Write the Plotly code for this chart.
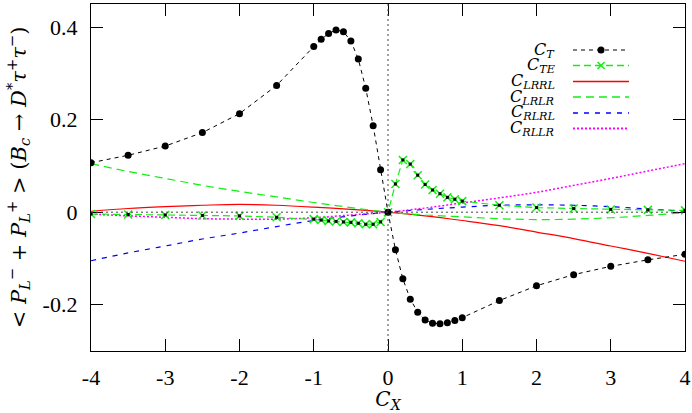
import plotly.graph_objects as go

# C_T and C_TE are sampled on the same grid of C_X values
cx_pts = [-4, -3.5, -3, -2.5, -2, -1.5, -1, -0.9, -0.8, -0.7, -0.6, -0.5, -0.4, -0.3, -0.2, -0.1,
          0, 0.1, 0.2, 0.3, 0.4, 0.5, 0.6, 0.7, 0.8, 0.9, 1, 1.5, 2, 2.5, 3, 3.5, 4]
c_t = [0.107, 0.123, 0.143, 0.172, 0.213, 0.274, 0.358, 0.374, 0.386, 0.394, 0.390, 0.370,
       0.331, 0.268, 0.187, 0.092,
       0.0, -0.081, -0.144, -0.188, -0.216, -0.233, -0.240, -0.241, -0.239, -0.234, -0.228,
       -0.191, -0.159, -0.135, -0.117, -0.103, -0.091]
c_te = [-0.004, -0.005, -0.006, -0.007, -0.008, -0.011, -0.015, -0.017, -0.019, -0.020, -0.021,
        -0.022, -0.024, -0.026, -0.026, -0.021,
        0.0, 0.061, 0.113, 0.104, 0.080, 0.060, 0.048, 0.040, 0.032, 0.028, 0.024,
        0.015, 0.010, 0.008, 0.006, 0.005, 0.004]

# smooth curves
cx_curve = [-4, -3.5, -3, -2.5, -2, -1.5, -1, -0.5, 0, 0.5, 1, 1.5, 2, 2.5, 3, 3.5, 4]
c_lrrl = [0.002, 0.008, 0.012, 0.015, 0.017, 0.015, 0.011, 0.006, 0.0,
          -0.008, -0.018, -0.029, -0.043, -0.057, -0.073, -0.089, -0.106]
c_lrlr = [0.105, 0.088, 0.073, 0.058, 0.045, 0.033, 0.021, 0.010, 0.0,
          -0.006, -0.010, -0.014, -0.016, -0.015, -0.012, -0.007, -0.001]
c_rlrl = [-0.105, -0.088, -0.073, -0.058, -0.045, -0.031, -0.018, -0.008, 0.0,
          0.006, 0.011, 0.015, 0.016, 0.015, 0.012, 0.007, 0.002]
c_rllr = [-0.004, -0.008, -0.011, -0.014, -0.015, -0.015, -0.012, -0.006, 0.0,
          0.009, 0.020, 0.031, 0.043, 0.058, 0.073, 0.089, 0.105]

x_ticks = [-4, -3, -2, -1, 0, 1, 2, 3, 4]
x_ticktext = ["-4", "-3", "-2", "-1", "0", "1", "2", "3", "4"]
y_ticks = [-0.2, 0, 0.2, 0.4]
y_ticktext = ["-0.2", "0", "0.2", "0.4"]

GREEN = "#11ee11"
SERIF = "DejaVu Serif, Liberation Serif, serif"
TICKFONT = "Liberation Serif, DejaVu Serif, serif"

fig = go.Figure()

# zero reference lines
fig.add_hline(y=0, line=dict(color="#444444", width=1, dash="2px,3px"))
fig.add_vline(x=0, line=dict(color="#444444", width=1, dash="2px,3px"))

fig.add_trace(go.Scatter(x=cx_curve, y=c_lrrl, mode="lines", line_shape="spline",
                         line=dict(color="red", width=1.2)))
fig.add_trace(go.Scatter(x=cx_curve, y=c_lrlr, mode="lines", line_shape="spline",
                         line=dict(color=GREEN, width=1.2, dash="8px,5px")))
fig.add_trace(go.Scatter(x=cx_curve, y=c_rlrl, mode="lines", line_shape="spline",
                         line=dict(color="blue", width=1.2, dash="5px,6px")))
fig.add_trace(go.Scatter(x=cx_curve, y=c_rllr, mode="lines", line_shape="spline",
                         line=dict(color="magenta", width=1.5, dash="2px,2px")))

fig.add_trace(go.Scatter(x=cx_pts, y=c_te, mode="lines+markers",
                         line=dict(color=GREEN, width=1.2, dash="7px,4px"),
                         marker=dict(symbol="x-thin", size=8, line=dict(color=GREEN, width=1.5))))
fig.add_trace(go.Scatter(x=cx_pts, y=c_te, mode="markers",
                         marker=dict(symbol="square", size=3, color="black")))
fig.add_trace(go.Scatter(x=cx_pts, y=c_t, mode="lines+markers",
                         line=dict(color="black", width=1, dash="4px,4px"),
                         marker=dict(symbol="circle", size=7, color="black")))

# legend drawn by hand: label on the left, sample on the right
labels = ["<i>C<sub>T</sub></i>", "<i>C<sub>TE</sub></i>", "<i>C<sub>LRRL</sub></i>",
          "<i>C<sub>LRLR</sub></i>", "<i>C<sub>RLRL</sub></i>", "<i>C<sub>RLLR</sub></i>"]
styles = [("black", "4px,4px", 1.2), (GREEN, "7px,4px", 1.5), ("red", "solid", 1.5),
          (GREEN, "8px,5px", 1.5), ("blue", "5px,6px", 1.5), ("magenta", "2px,2px", 1.8)]
row_px = [50, 65.5, 81.5, 97, 113, 128.5]
plot_h = 347.0
for lab, (col, dsh, w), ypx in zip(labels, styles, row_px):
    yp = (351 - ypx) / plot_h
    fig.add_annotation(xref="paper", yref="paper", x=0.7845, y=yp, text=lab,
                       showarrow=False, xanchor="right", yanchor="middle",
                       font=dict(family=SERIF, size=16, color="black"))
    fig.add_shape(type="line", xref="paper", yref="paper", x0=0.8114, x1=0.9057,
                  y0=yp, y1=yp, line=dict(color=col, width=w, dash=dsh))
yT = (351 - row_px[0]) / plot_h
fig.add_shape(type="circle", xref="paper", yref="paper", xsizemode="pixel", ysizemode="pixel",
              xanchor=0.8586, yanchor=yT, x0=-3.5, x1=3.5, y0=-3.5, y1=3.5,
              fillcolor="black", line=dict(color="black", width=0))
yTE = (351 - row_px[1]) / plot_h
for a, b in [(-3.5, 3.5), (3.5, -3.5)]:
    fig.add_shape(type="line", xref="paper", yref="paper", xsizemode="pixel", ysizemode="pixel",
                  xanchor=0.8586, yanchor=yTE, x0=a, x1=b, y0=-3.5, y1=3.5,
                  line=dict(color=GREEN, width=1.5))

fig.update_layout(
    width=692, height=413,
    margin=dict(l=91, r=7, t=4, b=62),
    paper_bgcolor="white", plot_bgcolor="white",
    showlegend=False,
    font=dict(family=SERIF, size=19, color="black"),
)
fig.update_xaxes(range=[-4, 4], tickvals=x_ticks, ticktext=x_ticktext,
                 tickfont=dict(family=TICKFONT, size=22),
                 ticks="inside", ticklen=12, tickwidth=1.3, tickcolor="black",
                 showline=True, linewidth=1.3, linecolor="black", mirror="ticks",
                 showgrid=False, zeroline=False, automargin=False,
                 ticklabeloverflow="allow", ticklabelstandoff=6,
                 title=dict(text="<i>C<sub>X</sub></i>", font=dict(size=20), standoff=2))
fig.update_yaxes(range=[-0.3, 0.45], tickvals=y_ticks, ticktext=y_ticktext,
                 tickfont=dict(family=TICKFONT, size=22),
                 ticks="inside", ticklen=12, tickwidth=1.3, tickcolor="black",
                 showline=True, linewidth=1.3, linecolor="black", mirror="ticks",
                 showgrid=False, zeroline=False, ticklabelstandoff=8, automargin=False,
                 ticklabeloverflow="allow",
                 title=dict(text="&lt; <i>P</i><sub><i>L</i></sub><sup>−</sup> + "
                                 "<i>P</i><sub><i>L</i></sub><sup>+</sup> &gt; "
                                 "(<i>B</i><sub><i>c</i></sub> → <i>D</i><sup>*</sup>"
                                 "<i>τ</i><sup>+</sup><i>τ</i><sup>−</sup>)",
                            font=dict(size=21), standoff=10))

# the page body has a default 8px margin; drop it so the figure sits at the origin
fig.write_html("out.html", config={"displayModeBar": False},
               post_script="document.body.style.margin='0';")
